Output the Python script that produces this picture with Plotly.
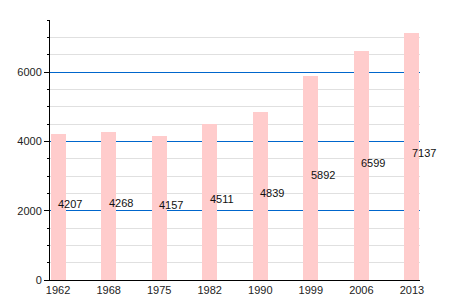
import plotly.graph_objects as go

years = ["1962", "1968", "1975", "1982", "1990", "1999", "2006", "2013"]
population = [4207, 4268, 4157, 4511, 4839, 5892, 6599, 7137]

fig = go.Figure()
fig.add_trace(go.Bar(
    x=list(range(len(years))), y=population,
    marker=dict(color="#ffcccc", line=dict(width=0)),
    width=0.3, hoverinfo="skip",
))

for i, v in enumerate(population):
    fig.add_annotation(
        x=i, y=v / 2, text=str(v), showarrow=False,
        xanchor="left", yanchor="middle", yshift=3, xshift=-2,
        font=dict(size=11, color="#111", family="Liberation Sans, Arial"),
    )

fig.update_layout(
    width=450, height=300,
    margin=dict(l=50, r=30, t=20, b=20, autoexpand=False),
    plot_bgcolor="white", paper_bgcolor="white",
    showlegend=False,
    font=dict(family="Liberation Sans, Arial", size=11, color="#222"),
    bargap=0,
)
fig.update_xaxes(
    tickmode="array", tickvals=list(range(len(years))), ticktext=years,
    range=[-0.16, 7.16], showgrid=False, showline=True, linecolor="black",
    linewidth=1, ticks="", zeroline=False, fixedrange=True, automargin=False,
    tickfont=dict(size=11, color="#222"),
)
fig.update_yaxes(
    range=[0, 7500], dtick=2000, tick0=0, automargin=False,
    showgrid=True, gridcolor="#0066cc", gridwidth=1,
    showline=True, linecolor="black", linewidth=1,
    ticks="outside", ticklen=5, tickcolor="black",
    zeroline=False,
    minor=dict(dtick=500, tick0=0, showgrid=True, gridcolor="#e0e0e0",
               ticks="outside", ticklen=2, tickcolor="black"),
    tickfont=dict(size=11, color="#222"),
)

fig.write_html("out.html")
